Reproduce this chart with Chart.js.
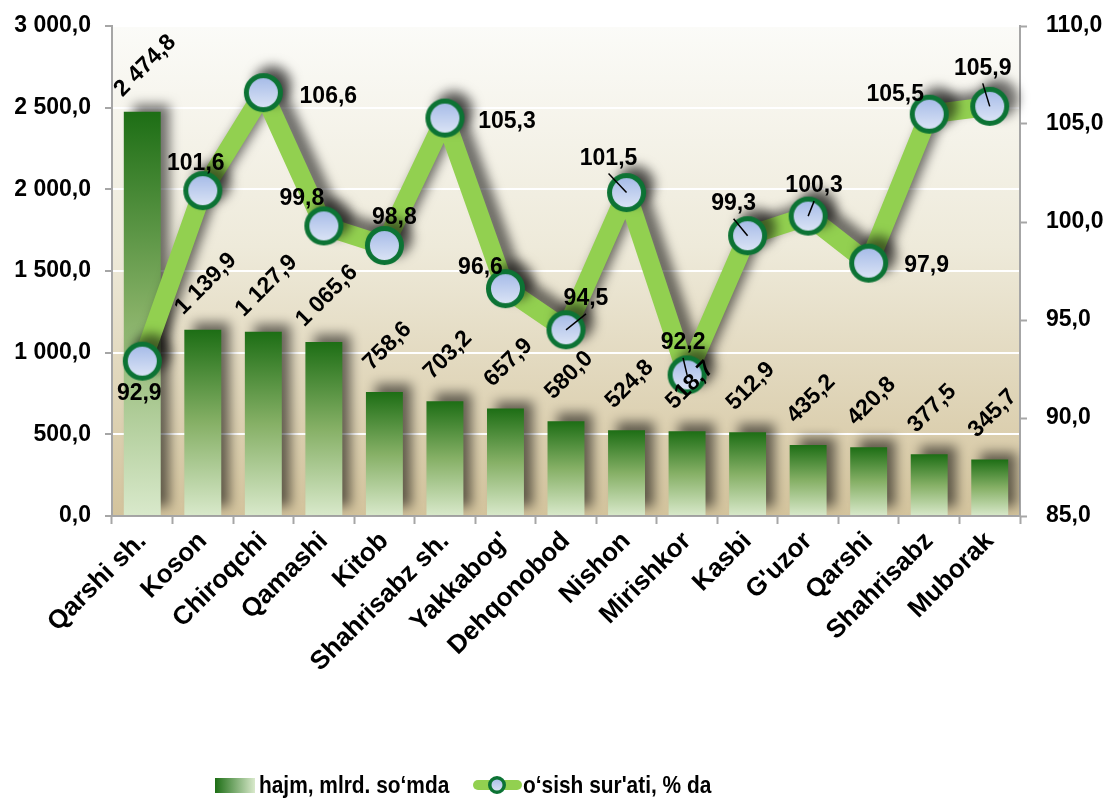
<!DOCTYPE html>
<html>
<head>
<meta charset="utf-8">
<script src="https://cdn.jsdelivr.net/npm/chart.js@4.4.1/dist/chart.umd.min.js"></script>
<style>
  html, body { margin: 0; padding: 0; background: #fff; }
  #wrap { width: 1109px; height: 798px; }
</style>
</head>
<body>
<div id="wrap"><canvas id="chart" width="1109" height="798"></canvas></div>
<script>
const categories = ['Qarshi sh.', 'Koson', 'Chiroqchi', 'Qamashi', 'Kitob', 'Shahrisabz sh.', "Yakkabog'",
    'Dehqonobod', 'Nishon', 'Mirishkor', 'Kasbi', "G'uzor", 'Qarshi', 'Shahrisabz', 'Muborak'];
const volume = [2474.8, 1139.9, 1127.9, 1065.6, 758.6, 703.2, 657.9, 580.0, 524.8, 518.7, 512.9, 435.2, 420.8, 377.5, 345.7];
const growth = [92.9, 101.6, 106.6, 99.8, 98.8, 105.3, 96.6, 94.5, 101.5, 92.2, 99.3, 100.3, 97.9, 105.5, 105.9];
const volumeTicks = [0, 500, 1000, 1500, 2000, 2500, 3000];
const growthTicks = [85, 90, 95, 100, 105, 110];
const seriesNames = ['hajm, mlrd. so‘mda', 'o‘sish sur\'ati, % da'];

// where each growth label sits relative to its marker, and which ones get a leader line
const growthLabelOffsets = [[-3, 31], [-7, -28], [65, 3], [-22, -28], [10, -29], [62, 3], [-25, -22], [20, -32],
    [-18, -35], [-4, -33], [-14, -33], [6, -31], [58, 1], [-34, -21], [-7, -39]];
const leaderLines = [7, 8, 9, 10, 11, 14];

const FONT = "'Liberation Sans', Arial, sans-serif";

function fmt(v) {
    const parts = v.toFixed(1).split('.');
    return parts[0].replace(/\B(?=(\d{3})+(?!\d))/g, ' ') + ',' + parts[1];
}

function makeMarker(r, border) {
    const c = document.createElement('canvas');
    const size = Math.ceil(2 * r + 2);
    c.width = size; c.height = size;
    const g = c.getContext('2d');
    const m = size / 2;
    const grad = g.createLinearGradient(0, m - r, 0, m + r);
    grad.addColorStop(0, '#9fb6e6');
    grad.addColorStop(1, '#e3eaf8');
    g.beginPath();
    g.arc(m, m, r - border / 2, 0, Math.PI * 2);
    g.fillStyle = grad;
    g.fill();
    g.lineWidth = border;
    g.strokeStyle = '#0c7334';
    g.stroke();
    return c;
}
const marker = makeMarker(19.5, 5);

function barFill(context) {
    const chart = context.chart;
    if (!chart.chartArea) return '#4f9a3a';
    const y = chart.scales.y;
    const top = y.getPixelForValue(context.raw);
    const bottom = y.getPixelForValue(0);
    const g = chart.ctx.createLinearGradient(0, top, 0, bottom);
    g.addColorStop(0, '#1d6e15');
    g.addColorStop(0.5, '#86b066');
    g.addColorStop(1, '#d9e9cb');
    return g;
}

const plotBackground = {
    id: 'plotBackground',
    beforeDraw(chart) {
        const {ctx, chartArea: a} = chart;
        const g = ctx.createLinearGradient(0, a.top, 0, a.bottom);
        g.addColorStop(0, '#fbfbf8');
        g.addColorStop(0.45, '#eeeada');
        g.addColorStop(1, '#d3c39c');
        ctx.save();
        ctx.fillStyle = g;
        ctx.fillRect(a.left, a.top, a.right - a.left, a.bottom - a.top);
        ctx.restore();
    }
};

const shadows = {
    id: 'shadows',
    beforeDatasetDraw(chart) {
        const ctx = chart.ctx;
        ctx.save();
        ctx.shadowColor = 'rgba(0,0,0,0.55)';
        ctx.shadowBlur = 11;
        ctx.shadowOffsetX = 9;
        ctx.shadowOffsetY = -8;
    },
    afterDatasetDraw(chart) {
        chart.ctx.restore();
    }
};

const valueLabels = {
    id: 'valueLabels',
    afterDatasetsDraw(chart) {
        const ctx = chart.ctx;
        ctx.save();
        ctx.fillStyle = '#000';
        ctx.font = 'bold 23px ' + FONT;
        ctx.textAlign = 'center';
        ctx.textBaseline = 'middle';

        const barMeta = chart.getDatasetMeta(1);
        barMeta.data.forEach((bar, i) => {
            ctx.save();
            ctx.translate(bar.x + 3, bar.y - 46);
            ctx.rotate(-Math.PI / 4);
            ctx.fillText(fmt(volume[i]), 0, 0);
            ctx.restore();
        });

        const lineMeta = chart.getDatasetMeta(0);
        lineMeta.data.forEach((pt, i) => {
            const lx = pt.x + growthLabelOffsets[i][0];
            const ly = pt.y + growthLabelOffsets[i][1];
            if (leaderLines.includes(i)) {
                ctx.beginPath();
                ctx.moveTo(pt.x, pt.y);
                ctx.lineTo(lx, ly + 16);
                ctx.lineWidth = 1.5;
                ctx.strokeStyle = '#000';
                ctx.stroke();
            }
            ctx.fillText(fmt(growth[i]), lx, ly + 1);
        });
        ctx.restore();
    }
};

const legendBox = {
    id: 'legendBox',
    afterDraw(chart) {
        const ctx = chart.ctx;
        const y = 785;
        ctx.save();
        const g = ctx.createLinearGradient(215, 0, 255, 0);
        g.addColorStop(0, '#1d6e15');
        g.addColorStop(1, '#d9e9cb');
        ctx.fillStyle = g;
        ctx.fillRect(215, y - 7, 40, 15);

        ctx.beginPath();
        ctx.moveTo(478, y);
        ctx.lineTo(517, y);
        ctx.lineCap = 'round';
        ctx.lineWidth = 10;
        ctx.strokeStyle = '#92d050';
        ctx.stroke();
        const small = makeMarker(9, 3.5);
        ctx.drawImage(small, 497 - small.width / 2, y - small.height / 2);

        ctx.fillStyle = '#000';
        ctx.font = 'bold 24px ' + FONT;
        ctx.textBaseline = 'middle';
        ctx.textAlign = 'left';
        const sx = 0.87;
        ctx.save();
        ctx.translate(259, y + 1);
        ctx.scale(sx, 1);
        ctx.fillText(seriesNames[0], 0, 0);
        ctx.restore();
        ctx.save();
        ctx.translate(523, y + 1);
        ctx.scale(sx, 1);
        ctx.fillText(seriesNames[1], 0, 0);
        ctx.restore();
        ctx.restore();
    }
};

const axisColor = '#a6a6a6';

new Chart(document.getElementById('chart'), {
    data: {
        labels: categories,
        datasets: [
            {
                type: 'line',
                label: seriesNames[1],
                data: growth,
                yAxisID: 'y1',
                order: 0,
                borderColor: '#92d050',
                borderWidth: 19,
                borderJoinStyle: 'round',
                pointStyle: marker,
                pointRadius: 19,
                pointHoverRadius: 19,
                pointBorderWidth: 0,
                pointHoverBorderWidth: 0,
                tension: 0
            },
            {
                type: 'bar',
                label: seriesNames[0],
                data: volume,
                yAxisID: 'y',
                order: 1,
                backgroundColor: barFill,
                borderWidth: 0,
                categoryPercentage: 1,
                barPercentage: 0.61
            }
        ]
    },
    options: {
        responsive: false,
        animation: false,
        layout: { autoPadding: false, padding: { top: 26, bottom: 0, left: 0, right: 0 } },
        scales: {
            x: {
                grid: {
                    offset: true,
                    drawOnChartArea: false,
                    tickLength: 8,
                    tickWidth: 2,
                    tickColor: axisColor
                },
                border: { color: axisColor, width: 2 },
                ticks: {
                    color: '#000',
                    font: { family: FONT, size: 26, weight: 'bold' },
                    minRotation: 45,
                    maxRotation: 45,
                    padding: 2,
                    autoSkip: false
                },
                afterFit(scale) { scale.height = 282; }
            },
            y: {
                position: 'left',
                min: volumeTicks[0],
                max: volumeTicks[volumeTicks.length - 1],
                grid: {
                    color: '#ffffff',
                    lineWidth: 2,
                    tickLength: 7,
                    tickWidth: 2,
                    tickColor: axisColor
                },
                border: { color: axisColor, width: 2 },
                afterBuildTicks(scale) { scale.ticks = volumeTicks.map(v => ({value: v})); },
                ticks: {
                    color: '#000',
                    font: { family: FONT, size: 23, weight: 'bold' },
                    padding: 14,
                    callback: v => fmt(v)
                },
                afterFit(scale) {
                    scale.width = 112;
                    scale.paddingTop = 0;
                    scale.paddingBottom = 0;
                }
            },
            y1: {
                position: 'right',
                min: growthTicks[0],
                max: growthTicks[growthTicks.length - 1],
                grid: {
                    drawOnChartArea: false,
                    tickLength: 7,
                    tickWidth: 2,
                    tickColor: axisColor
                },
                border: { color: axisColor, width: 2 },
                afterBuildTicks(scale) { scale.ticks = growthTicks.map(v => ({value: v})); },
                ticks: {
                    color: '#000',
                    font: { family: FONT, size: 23, weight: 'bold' },
                    padding: 19,
                    callback: v => fmt(v)
                },
                afterFit(scale) {
                    scale.width = 89;
                    scale.paddingTop = 0;
                    scale.paddingBottom = 0;
                }
            }
        },
        plugins: {
            legend: { display: false },
            tooltip: { enabled: false }
        }
    },
    plugins: [plotBackground, shadows, valueLabels, legendBox]
});
</script>
</body>
</html>
